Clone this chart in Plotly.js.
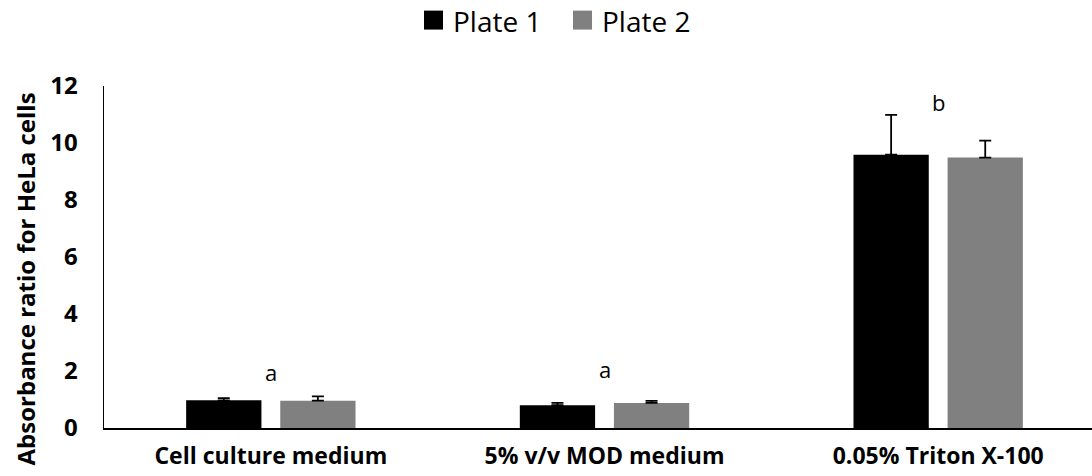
<!DOCTYPE html>
<html>
<head>
<meta charset="utf-8">
<script src="https://cdn.plot.ly/plotly-3.0.1.min.js"></script>
<style>html,body{margin:0;padding:0;background:#fff;}#chart{width:1092px;height:476px;}</style>
</head>
<body>
<div id="chart"></div>
<script>
const categories = ["Cell culture medium", "5% v/v MOD medium", "0.05% Triton X-100"];
const plate1 = [0.97, 0.80, 9.59];
const plate1Err = [0.08, 0.08, 1.40];
const plate2 = [0.96, 0.88, 9.49];
const plate2Err = [0.15, 0.07, 0.59];
const letters = ["a", "a", "b"];
const letterY = [1.98, 2.08, 11.43];
const seriesNames = ["Plate 1", "Plate 2"];
const seriesColors = ["#000000", "#808080"];
const yTicks = [0, 2, 4, 6, 8, 10, 12];

const FONT = "Open Sans, Noto Sans, sans-serif";
const W = 1092, H = 476;
const M = {l: 104, r: 0, t: 86, b: 47.5};
const pw = W - M.l - M.r, ph = H - M.t - M.b;
const px2x = px => (px - M.l) / pw;
const py2y = py => (H - M.b - py) / ph;

const mkTrace = (name, y, err, color) => ({
  type: "bar", name: name, x: categories, y: y,
  marker: {color: color, line: {width: 0}},
  error_y: {type: "data", array: err, arrayminus: err.map(() => 0), symmetric: false,
            visible: true, color: "#000", thickness: 1.8, width: 6}
});

const data = [
  mkTrace(seriesNames[0], plate1, plate1Err, seriesColors[0]),
  mkTrace(seriesNames[1], plate2, plate2Err, seriesColors[1])
];

const annotations = categories.map((c, i) => ({
  x: c, y: letterY[i], xref: "x", yref: "y", text: letters[i], showarrow: false,
  font: {family: FONT, size: 22, color: "#000"}
}));
annotations.push({
  text: "<b>Absorbance ratio for HeLa cells</b>", xref: "paper", yref: "paper",
  x: px2x(25), xanchor: "center", y: py2y(91), yanchor: "top", showarrow: false, textangle: -90,
  font: {family: FONT, size: 24, color: "#000"}
});

// custom legend (square + label) at top
const legendSquareX = [424, 573];
const shapes = [];
seriesNames.forEach((n, i) => {
  shapes.push({type: "rect", xref: "paper", yref: "paper",
    x0: px2x(legendSquareX[i]), x1: px2x(legendSquareX[i] + 19),
    y0: py2y(29.5), y1: py2y(10.5), fillcolor: seriesColors[i], line: {width: 0}});
  annotations.push({text: n, xref: "paper", yref: "paper", x: px2x(legendSquareX[i] + 27),
    xanchor: "left", y: py2y(21), yanchor: "middle", showarrow: false,
    font: {family: FONT, size: 28, color: "#000"}});
});

const layout = {
  width: W, height: H,
  margin: {l: M.l, r: M.r, t: M.t, b: M.b, autoexpand: false},
  paper_bgcolor: "#fff", plot_bgcolor: "#fff",
  barmode: "group", bargap: 0.436, bargroupgap: 0.2,
  showlegend: false,
  xaxis: {type: "category", range: [-0.5, 2.461], showline: true, linecolor: "#000", linewidth: 1.8,
          ticks: "", showgrid: false, zeroline: false, ticklabelstandoff: 7,
          tickfont: {family: FONT, size: 23, color: "#000", weight: "bold"}},
  yaxis: {range: [0, 12], tickvals: yTicks, ticktext: yTicks.map(String), showline: true,
          linecolor: "#000", linewidth: 1.5, ticks: "", showgrid: false, zeroline: false,
          ticklabelstandoff: 20,
          tickfont: {family: FONT, size: 24, color: "#000", weight: "bold"}},
  shapes: shapes,
  annotations: annotations
};

Plotly.newPlot("chart", data, layout, {displayModeBar: false, staticPlot: true});
</script>
</body>
</html>
